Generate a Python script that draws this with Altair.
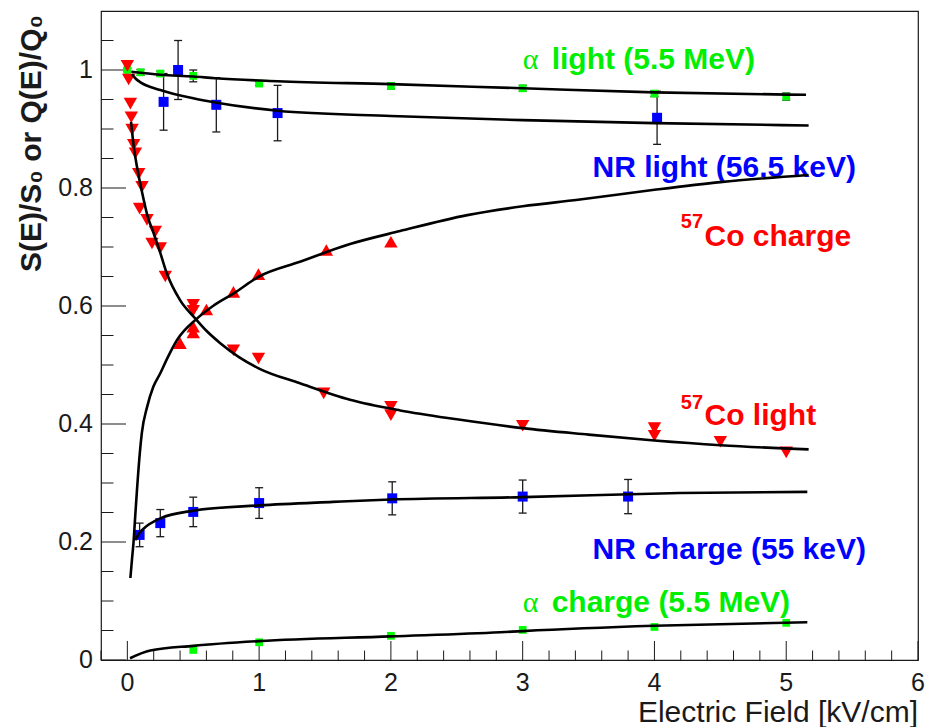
import altair as alt
import pandas as pd

# ---------------- fitted curves ----------------
a_light_curve_E = [0.03, 0.25, 0.5, 0.667, 1.14, 2.0, 3.0, 4.0, 5.15]
a_light_curve_v = [0.997, 0.992, 0.989, 0.986, 0.981, 0.976, 0.969, 0.962, 0.958]

nr_light_curve_E = [0.035, 0.06, 0.1, 0.25, 0.5, 0.667, 1.14, 2.0, 3.0, 4.0, 5.17]
nr_light_curve_v = [0.993, 0.986, 0.979, 0.966, 0.952, 0.945, 0.931, 0.922, 0.915, 0.910, 0.906]

co_light_curve_E = [0.028, 0.05, 0.073, 0.1, 0.124, 0.15, 0.2, 0.25, 0.3, 0.4, 0.515, 0.6,
                    0.705, 0.85, 1.0, 1.31, 1.69, 2.07, 2.5, 3.0, 3.5, 4.0, 4.5, 5.17]
co_light_curve_v = [0.912, 0.868, 0.836, 0.805, 0.78, 0.755, 0.723, 0.69, 0.655, 0.61, 0.579, 0.558,
                    0.537, 0.513, 0.494, 0.469, 0.441, 0.423, 0.408, 0.393, 0.382, 0.372, 0.364, 0.357]

co_charge_curve_E = [0.023, 0.035, 0.048, 0.06, 0.073, 0.095, 0.11, 0.15, 0.197, 0.25, 0.3, 0.376,
                     0.53, 0.65, 0.805, 1.0, 1.31, 1.69, 2.07, 2.58, 3.0, 3.42, 4.0, 4.5, 5.17]
co_charge_curve_v = [0.139, 0.17, 0.203, 0.245, 0.288, 0.352, 0.385, 0.429, 0.463, 0.486, 0.51, 0.542,
                     0.579, 0.60, 0.621, 0.65, 0.675, 0.705, 0.727, 0.754, 0.769, 0.78, 0.797, 0.81, 0.822]

nr_charge_curve_E = [0.06, 0.09, 0.125, 0.25, 0.5, 1.0, 1.56, 2.0, 3.0, 4.19, 5.16]
nr_charge_curve_v = [0.203, 0.215, 0.223, 0.24, 0.253, 0.262, 0.268, 0.272, 0.276, 0.283, 0.285]

a_charge_curve_E = [0.02, 0.174, 0.5, 1.0, 2.0, 2.83, 3.0, 4.0, 5.16]
a_charge_curve_v = [0.003, 0.016, 0.024, 0.032, 0.040, 0.047, 0.049, 0.058, 0.064]

# ---------------- measured points ----------------
a_light_E = [0.0, 0.1, 0.25, 0.5, 1.0, 2.0, 3.0, 4.0, 5.0]
a_light_v = [1.0, 0.996, 0.994, 0.990, 0.977, 0.973, 0.969, 0.960, 0.955]
a_light_err = [0.003, 0.005, 0.004, 0.010, 0.003, 0.005, 0.005, 0.005, 0.006]

nr_light_E = [0.275, 0.385, 0.675, 1.14, 4.02]
nr_light_v = [0.946, 1.0, 0.941, 0.927, 0.919]
nr_light_err = [0.048, 0.050, 0.046, 0.047, 0.045]

co_light_E = [0.0, 0.01, 0.023, 0.03, 0.036, 0.048, 0.061, 0.086, 0.111, 0.093, 0.149, 0.212, 0.187,
              0.25, 0.288, 0.5, 0.5, 0.805, 0.995, 1.49, 2.0, 2.0, 3.0, 4.0, 4.0, 4.5, 5.0]
co_light_v = [1.007, 0.984, 0.943, 0.920, 0.899, 0.873, 0.859, 0.824, 0.802, 0.765, 0.746, 0.726, 0.706,
              0.698, 0.650, 0.602, 0.592, 0.525, 0.511, 0.452, 0.429, 0.415, 0.397, 0.393, 0.380, 0.370, 0.352]

co_charge_E = [0.4, 0.5, 0.5, 0.6, 0.805, 0.995, 1.51, 2.0]
co_charge_v = [0.537, 0.565, 0.555, 0.594, 0.624, 0.654, 0.695, 0.709]

nr_charge_E = [0.093, 0.25, 0.5, 1.0, 2.01, 3.0, 3.8]
nr_charge_v = [0.212, 0.232, 0.251, 0.266, 0.274, 0.277, 0.277]
nr_charge_err = [0.020, 0.023, 0.025, 0.026, 0.028, 0.028, 0.029]

a_charge_E = [0.5, 1.0, 2.0, 3.0, 4.0, 5.0]
a_charge_v = [0.017, 0.030, 0.041, 0.051, 0.056, 0.063]

# ---------------- labels ----------------
lbl_text = ["light (5.5 MeV)", "NR light (56.5 keV)", "Co charge", "Co light",
            "NR charge (55 keV)", "charge (5.5 MeV)"]
lbl_E = [3.22, 3.53, 4.38, 4.38, 3.53, 3.22]
lbl_v = [1.002, 0.819, 0.7025, 0.398, 0.172, 0.082]
lbl_color = ["#00ee00", "#0000ff", "#ff0000", "#ff0000", "#0000ff", "#00ee00"]

alpha_text = ["α", "α"]
alpha_E = [3.0, 3.0]
alpha_v = [1.002, 0.082]

sup_text = ["57", "57"]
sup_E = [4.20, 4.20]
sup_v = [0.732, 0.426]

x_major = [0, 1, 2, 3, 4, 5, 6]
x_major_labels = ["0", "1", "2", "3", "4", "5", "6"]
x_minor = [round(-0.2 + 0.2 * k, 2) for k in range(32) if k % 5 != 1]
y_major = [0, 0.2, 0.4, 0.6, 0.8, 1.0]
y_major_labels = ["0", "0.2", "0.4", "0.6", "0.8", "1"]
y_minor = [round(0.05 * k, 2) for k in range(1, 22) if k % 4 != 0]

x_title = "Electric Field [kV/cm]"
y_title = "S(E)/S₀ or Q(E)/Q₀"

# ---------------- tables ----------------
def curve(name, E, v):
    return pd.DataFrame({"E": E, "v": v, "s": name, "i": list(range(len(E)))})

curves = pd.concat([
    curve("a_light", a_light_curve_E, a_light_curve_v),
    curve("nr_light", nr_light_curve_E, nr_light_curve_v),
    curve("co_light", co_light_curve_E, co_light_curve_v),
    curve("co_charge", co_charge_curve_E, co_charge_curve_v),
    curve("nr_charge", nr_charge_curve_E, nr_charge_curve_v),
    curve("a_charge", a_charge_curve_E, a_charge_curve_v),
], ignore_index=True)

def pts(E, v, err=None):
    d = pd.DataFrame({"E": E, "v": v})
    if err is not None:
        d["lo"] = [a - b for a, b in zip(v, err)]
        d["hi"] = [a + b for a, b in zip(v, err)]
    return d

green_pts = pd.concat([pts(a_light_E, a_light_v), pts(a_charge_E, a_charge_v)], ignore_index=True)
blue_pts = pd.concat([pts(nr_light_E, nr_light_v), pts(nr_charge_E, nr_charge_v)], ignore_index=True)
err_pts = pd.concat([pts(a_light_E, a_light_v, a_light_err),
                     pts(nr_light_E, nr_light_v, nr_light_err),
                     pts(nr_charge_E, nr_charge_v, nr_charge_err)], ignore_index=True)
down_pts = pts(co_light_E, co_light_v)
up_pts = pts(co_charge_E, co_charge_v)

labels = pd.DataFrame({"t": lbl_text, "E": lbl_E, "v": lbl_v, "c": lbl_color})
alphas = pd.DataFrame({"t": alpha_text, "E": alpha_E, "v": alpha_v})
sups = pd.DataFrame({"t": sup_text, "E": sup_E, "v": sup_v})

W, H = 817, 649
FONT = "Liberation Sans"
INK = "#1a1a1a"

xs = alt.Scale(domain=[-0.2, 6.0], nice=False, zero=False)
ys = alt.Scale(domain=[0, 1.1], nice=False, zero=False)

def X(f):
    return alt.X(f, type="quantitative", scale=xs, axis=None)

def Y(f):
    return alt.Y(f, type="quantitative", scale=ys, axis=None)

# ---- axis tick labels and titles (as text marks positioned by the scales) ----
x_lab_layer = alt.Chart(pd.DataFrame({"t": x_major, "s": x_major_labels})).mark_text(
    font=FONT, fontSize=25, color=INK, align="center", baseline="top").encode(
    x=X("t"), y=alt.value(H + 11), text="s:N")
y_lab_layer = alt.Chart(pd.DataFrame({"t": y_major, "s": y_major_labels})).mark_text(
    font=FONT, fontSize=25, color=INK, align="right", baseline="middle").encode(
    y=Y("t"), x=alt.value(-8), text="s:N")
x_title_layer = alt.Chart(pd.DataFrame({"s": [x_title]})).mark_text(
    font=FONT, fontSize=30, color=INK, align="right", baseline="alphabetic").encode(
    x=alt.value(W), y=alt.value(711), text="s:N")
y_title_layer = alt.Chart(pd.DataFrame({"s": [y_title]})).mark_text(
    font=FONT, fontSize=30, fontWeight="bold", color=INK, align="right",
    baseline="alphabetic", angle=270).encode(
    x=alt.value(-60), y=alt.value(4), text="s:N")

# ---- inward-pointing ticks ----
xt_major = alt.Chart(pd.DataFrame({"t": x_major})).mark_rule(color=INK, strokeWidth=1).encode(
    x=X("t"), y=alt.value(H), y2=alt.value(H - 19))
xt_minor = alt.Chart(pd.DataFrame({"t": x_minor})).mark_rule(color=INK, strokeWidth=1).encode(
    x=X("t"), y=alt.value(H), y2=alt.value(H - 9.5))
yt_major = alt.Chart(pd.DataFrame({"t": y_major})).mark_rule(color=INK, strokeWidth=1).encode(
    y=Y("t"), x=alt.value(0), x2=alt.value(25))
yt_minor = alt.Chart(pd.DataFrame({"t": y_minor})).mark_rule(color=INK, strokeWidth=1).encode(
    y=Y("t"), x=alt.value(0), x2=alt.value(12.5))

# ---- annotations ----
text_layer = alt.Chart(labels).mark_text(font=FONT, fontSize=30, fontWeight="bold",
                                         align="left", baseline="alphabetic").encode(
    x=X("E"), y=Y("v"), text="t:N", color=alt.Color("c:N", scale=None))
alpha_layer = alt.Chart(alphas).mark_text(font="Liberation Serif", fontSize=30, color="#00ee00",
                                          align="left", baseline="alphabetic").encode(
    x=X("E"), y=Y("v"), text="t:N")
sup_layer = alt.Chart(sups).mark_text(font=FONT, fontSize=20, fontWeight="bold", color="#ff0000",
                                      align="left", baseline="alphabetic").encode(
    x=X("E"), y=Y("v"), text="t:N")

# ---- error bars ----
err_rule = alt.Chart(err_pts).mark_rule(color=INK, strokeWidth=1.3).encode(
    x=X("E"), y=Y("lo"), y2="hi:Q")
cap = "M-1,0L1,0"
err_lo = alt.Chart(err_pts).mark_point(shape=cap, size=64, filled=False, stroke=INK,
                                       strokeWidth=1.3, opacity=1).encode(x=X("E"), y=Y("lo"))
err_hi = alt.Chart(err_pts).mark_point(shape=cap, size=64, filled=False, stroke=INK,
                                       strokeWidth=1.3, opacity=1).encode(x=X("E"), y=Y("hi"))

# ---- markers ----
green_layer = alt.Chart(green_pts).mark_point(shape="square", size=60, filled=True,
                                              color="#00ff00", opacity=1).encode(x=X("E"), y=Y("v"))
blue_layer = alt.Chart(blue_pts).mark_point(shape="square", size=100, filled=True,
                                            color="#0000ff", opacity=1).encode(x=X("E"), y=Y("v"))
down_layer = alt.Chart(down_pts).mark_point(shape="triangle-down", size=180, filled=True,
                                            color="#ff0000", opacity=1).encode(x=X("E"), y=Y("v"))
up_layer = alt.Chart(up_pts).mark_point(shape="triangle-up", size=180, filled=True,
                                        color="#ff0000", opacity=1).encode(x=X("E"), y=Y("v"))

# ---- fit curves ----
line_layer = alt.Chart(curves).mark_line(color="black", strokeWidth=2.6,
                                         interpolate="monotone").encode(
    x=X("E"), y=Y("v"), detail="s:N", order="i:Q")

chart = alt.layer(
    x_lab_layer, y_lab_layer, x_title_layer, y_title_layer,
    xt_major, xt_minor, yt_major, yt_minor,
    text_layer, alpha_layer, sup_layer,
    err_rule, err_lo, err_hi,
    green_layer, blue_layer, down_layer, up_layer, line_layer,
).properties(
    width=W, height=H,
    padding={"left": 101, "top": 11, "right": 10, "bottom": 67},
    autosize=alt.AutoSizeParams(type="none"),
    background="white",
).configure_view(stroke=INK, strokeWidth=1.2)

chart.save("out.html", embed_options={"renderer": "svg", "actions": False})
